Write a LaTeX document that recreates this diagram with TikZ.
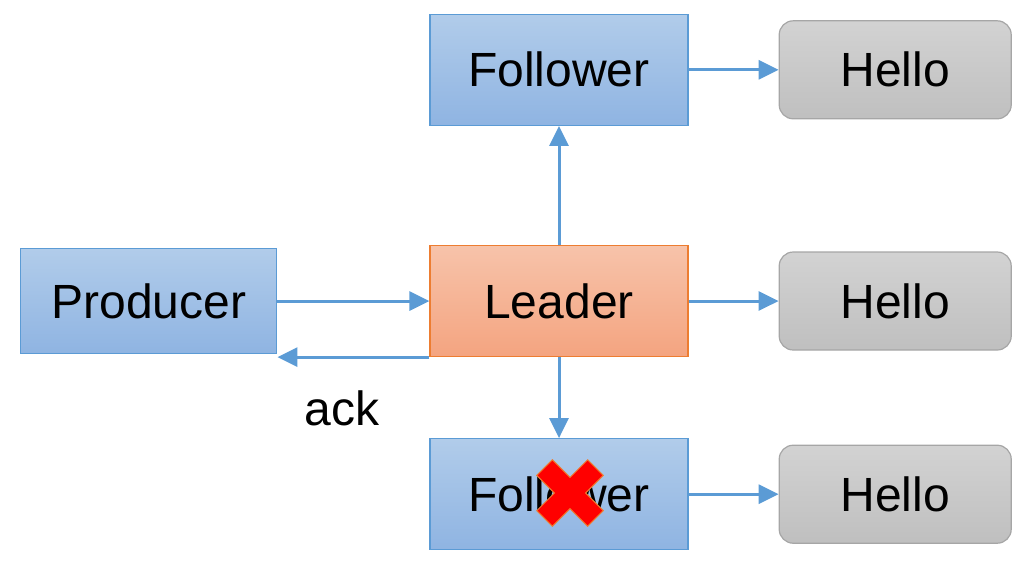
\documentclass[tikz,border=0pt]{standalone}
\usepackage{fontspec}
\setmainfont{Liberation Sans}
\usetikzlibrary{arrows.meta,positioning}
\definecolor{boxBlue}{HTML}{5B9BD5}
\definecolor{boxBlueTop}{HTML}{B1CCEA}
\definecolor{boxBlueBot}{HTML}{8FB4E2}
\definecolor{leadOrange}{HTML}{ED7D31}
\definecolor{leadTop}{HTML}{F7C3AA}
\definecolor{leadBot}{HTML}{F4A480}
\definecolor{msgGray}{HTML}{A6A6A6}

\begin{document}
\begin{tikzpicture}[
        x=0.5pt, y=-0.5pt,
        font=\fontsize{24}{28}\selectfont,
        broker/.style={rectangle, draw=boxBlue, line width=0.6pt, top color=boxBlueTop, bottom color=boxBlueBot, align=center, minimum width=129pt, minimum height=55.5pt},
        leader/.style={broker, draw=leadOrange, top color=leadTop, bottom color=leadBot},
        msg/.style={rectangle, draw=msgGray, line width=0.6pt, rounded corners=7pt, top color=gray!35, bottom color=gray!50, minimum width=116pt, minimum height=49pt},
        arrow/.style={-{Triangle[length=10pt,width=9.5pt]}, line width=1.5pt, color=boxBlue}
    ]
    \useasboundingbox (0,0) rectangle (1036,564);

    % Leader au centre
    \node[leader] (lead) at (559,301) {Leader};

    % Followers
    \node[broker, above=59.5pt of lead] (fol1) {Follower};
    \node[broker, below=40.5pt of lead] (fol2) {Follower};

    % Producer
    \node[broker, left=76pt of lead, minimum width=128pt, minimum height=52.5pt] (prod) {Producer};

    % Messages
    \node[msg, right=45pt of fol1] (msg1) {Hello};
    \node[msg, right=45pt of lead] (msg2) {Hello};
    \node[msg, right=45pt of fol2] (msg3) {Hello};

    % Liens
    \draw[arrow] (prod) -- (lead);
    \draw[arrow] (lead.south west) -- (lead.south west -| prod.east);
    \draw[arrow] (lead) -- (fol1);
    \draw[arrow] (lead) -- (fol2);
    \draw[arrow] (fol1) -- (msg1);
    \draw[arrow] (lead) -- (msg2);
    \draw[arrow] (fol2) -- (msg3);

    \node (ack) at (342,408) {ack};

    % Follower en panne
    \draw[fill=red, draw=leadOrange, line width=0.5pt, rotate around={45:(570,493)}, shift={(570,493)}]
        (11,11) -- (11,36) -- (-11,36) -- (-11,11) -- (-36,11) -- (-36,-11) -- (-11,-11) -- (-11,-36)
        -- (11,-36) -- (11,-11) -- (36,-11) -- (36,11) -- cycle;

\end{tikzpicture}
\end{document}
